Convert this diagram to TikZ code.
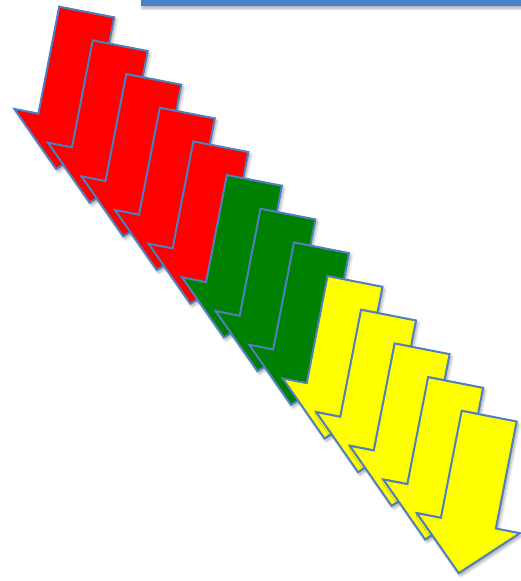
\documentclass[tikz,border=0pt]{standalone}
\usepackage{xcolor}
\definecolor{barblue}{HTML}{4A80C8}
\definecolor{edgeblue}{HTML}{4E7FBF}
\definecolor{stopred}{HTML}{FF0000}
\definecolor{waitgreen}{HTML}{008000}
\definecolor{goyellow}{HTML}{FFFF00}
\usepackage{tikz}
\usetikzlibrary{shadows.blur}

\tikzset{
  soft shadow/.style={blur shadow={shadow xshift=2pt, shadow yshift=-2.5pt,
                      shadow blur steps=6, shadow blur radius=3pt, shadow opacity=35}},
  downarrow/.pic={
    \draw[pic actions, line width=2pt, line join=miter, soft shadow]
      (-28,0) -- (28,0) -- (28,-109) -- (52.5,-109) -- (0,-160)
      -- (-52.5,-109) -- (-28,-109) -- cycle;
  }
}

\begin{document}
\begin{tikzpicture}[x=1pt, y=1pt]
  \clip (0,0) rectangle (521,581);

  % top bar
  \fill[barblue, soft shadow] (140.7,575.3) rectangle (540,600);

  % thirteen arrows, each drawn over the one before
  \foreach \i/\col in {0/stopred, 1/stopred, 2/stopred, 3/stopred, 4/stopred,
                       5/waitgreen, 6/waitgreen, 7/waitgreen,
                       8/goyellow, 9/goyellow, 10/goyellow, 11/goyellow, 12/goyellow}
  {
    \coordinate (top\i) at ({86.7+33.54*\i}, {569-33.68*\i});
    \pic[fill=\col, draw=edgeblue, rotate=-11] at (top\i) {downarrow};
  }
\end{tikzpicture}
\end{document}
